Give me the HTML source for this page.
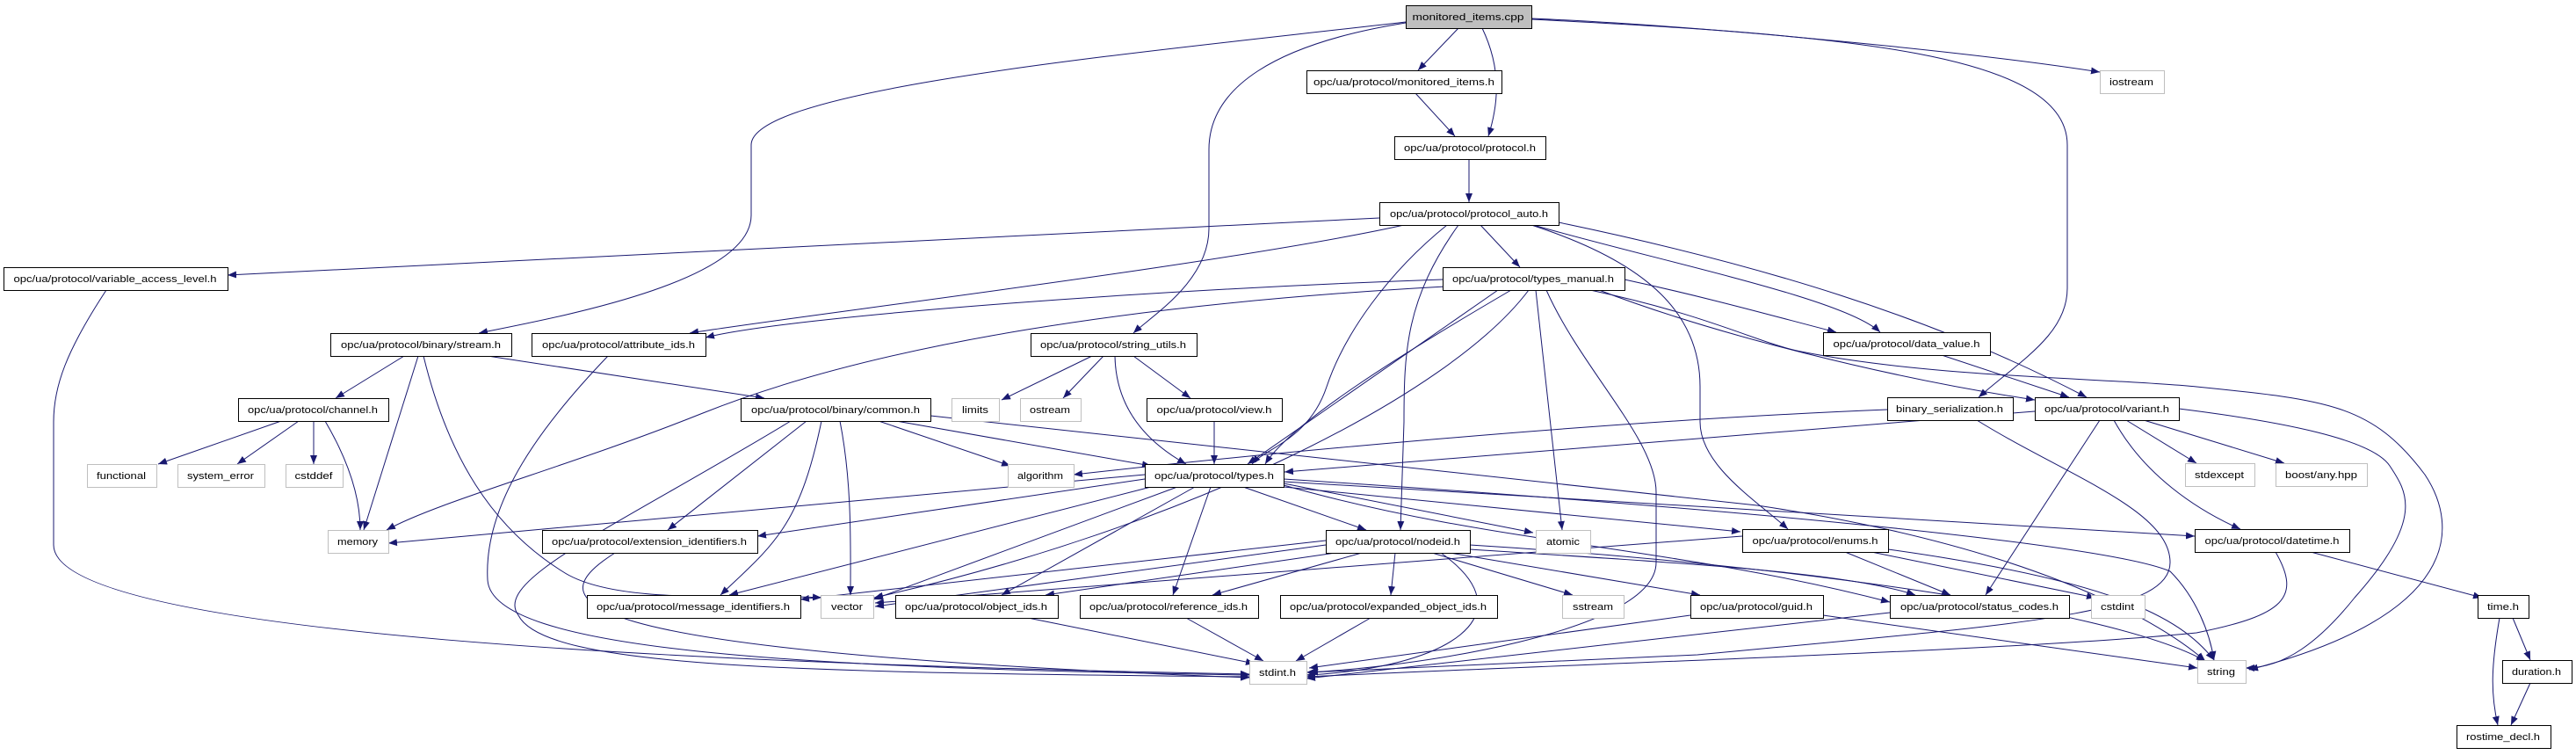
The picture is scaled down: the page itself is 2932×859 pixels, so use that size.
<!DOCTYPE html>
<html><head><meta charset="utf-8"><style>
html,body{margin:0;padding:0;background:#fff;}
svg{display:block;}
text{font-family:"Liberation Sans",sans-serif;font-size:11px;fill:#000;}
.e{fill:none;stroke:#191970;stroke-width:1;marker-end:url(#a);}
.b{fill:#fff;stroke:#000;stroke-width:1;}
.g{fill:#fff;stroke:#bfbfbf;stroke-width:1;}
</style></head><body>
<svg width="2932" height="859" viewBox="0 0 2932 859" xmlns="http://www.w3.org/2000/svg">
<defs><marker id="a" markerWidth="10" markerHeight="8" refX="10" refY="4" orient="auto" markerUnits="userSpaceOnUse"><path d="M0,0 L10,4 L0,8z" fill="#191970"/></marker></defs>
<g>
<path class="e" d="M1660 32 L1614 80"/>
<path class="e" d="M1687 32 C1710 80,1705 120,1694 155"/>
<path class="e" d="M1600 26 C1450 50,1376 100,1376 170 L1376 260 C1376 320,1310 360,1290 379"/>
<path class="e" d="M1600 25 C1300 60,855 100,855 165 L855 245 C855 320,640 360,545 379"/>
<path class="e" d="M1743 22 C2100 40,2353 60,2353 165 L2353 328 C2353 380,2300 410,2252 452"/>
<path class="e" d="M1743 21 C1950 30,2250 60,2390 82"/>
<path class="e" d="M1611 106 L1656 155"/>
<path class="e" d="M1672 181 L1672 230"/>
<path class="e" d="M1570 248 L259 313"/>
<path class="e" d="M1598 256 C1400 300,900 360,785 379"/>
<path class="e" d="M1685 256 L1730 304"/>
<path class="e" d="M1647 256 C1580 310,1530 380,1510 440 C1490 500,1440 510,1425 528"/>
<path class="e" d="M1660 256 C1600 340,1598 400,1598 480 L1594 603"/>
<path class="e" d="M1745 256 C1900 300,2100 340,2140 378"/>
<path class="e" d="M1774 253 C2000 300,2200 360,2375 452"/>
<path class="e" d="M1743 256 C1880 300,1935 360,1935 440 L1935 480 C1935 530,2000 570,2035 602"/>
<path class="e" d="M1642 318 C1300 330,900 360,803 384"/>
<path class="e" d="M1645 326 C1300 345,1000 390,800 470 C650 530,500 570,440 603"/>
<path class="e" d="M1720 330 C1600 400,1470 480,1440 528"/>
<path class="e" d="M1705 330 L1420 528"/>
<path class="e" d="M1740 330 C1650 450,1350 600,995 680"/>
<path class="e" d="M1748 330 L1778 603"/>
<path class="e" d="M1760 330 C1800 420,1885 500,1885 560 L1885 640 C1885 720,1600 760,1487 765"/>
<path class="e" d="M1849 318 C1950 340,2020 360,2090 378"/>
<path class="e" d="M1820 330 C1950 380,2150 430,2316 455"/>
<path class="e" d="M1810 330 C1950 360,2000 390,2050 400 C2200 430,2400 430,2500 440 C2650 455,2700 460,2760 540 C2800 600,2800 700,2560 762"/>
<path class="e" d="M1243 405 L1140 455"/>
<path class="e" d="M1256 405 L1210 453"/>
<path class="e" d="M1269 405 C1270 460,1300 500,1350 528"/>
<path class="e" d="M1290 405 L1355 453"/>
<path class="e" d="M1382 479 L1382 528"/>
<path class="e" d="M460 405 L382 453"/>
<path class="e" d="M476 405 L414 603"/>
<path class="e" d="M482 405 C510 520,560 600,640 650 C700 690,850 675,935 680"/>
<path class="e" d="M555 405 L870 453"/>
<path class="e" d="M320 479 L180 528"/>
<path class="e" d="M340 479 L270 528"/>
<path class="e" d="M357 479 L357 528"/>
<path class="e" d="M370 479 C400 530,410 570,410 603"/>
<path class="e" d="M121 330 C75 400,61 440,61 480 L61 620 C61 700,500 750,1422 767"/>
<path class="e" d="M692 405 C620 480,550 570,555 660 C560 740,900 760,1422 768"/>
<path class="e" d="M1000 479 L1150 530"/>
<path class="e" d="M1020 479 L1310 530"/>
<path class="e" d="M918 479 L760 603"/>
<path class="e" d="M935 479 C910 600,880 620,820 677"/>
<path class="e" d="M956 479 C970 550,968 620,968 677"/>
<path class="e" d="M900 479 C700 600,560 660,590 700 C620 760,900 765,1422 770"/>
<path class="e" d="M1059 473 L2000 575 C2300 620,2450 700,2510 752"/>
<path class="e" d="M2148 466 C1800 480,1400 520,1222 540"/>
<path class="e" d="M2250 478 C2350 540,2470 580,2470 640 C2470 700,2300 710,1932 745 L1490 765"/>
<path class="e" d="M2210 404 L2355 452"/>
<path class="e" d="M2316 468 L1462 537"/>
<path class="e" d="M2420 478 L2500 527"/>
<path class="e" d="M2440 478 L2600 527"/>
<path class="e" d="M2406 478 C2440 540,2500 580,2550 602"/>
<path class="e" d="M2390 478 L2260 677"/>
<path class="e" d="M2480 465 C2600 480,2700 500,2720 530 C2740 560,2760 590,2680 680 C2640 730,2600 760,2556 760"/>
<path class="e" d="M1303 540 L442 618"/>
<path class="e" d="M1303 545 L862 610"/>
<path class="e" d="M1310 554 L830 677"/>
<path class="e" d="M1340 554 L994 682"/>
<path class="e" d="M1360 554 L1140 677"/>
<path class="e" d="M1378 554 L1335 677"/>
<path class="e" d="M1415 554 L1555 603"/>
<path class="e" d="M1461 550 L1745 606"/>
<path class="e" d="M1461 554 L1981 605"/>
<path class="e" d="M1461 548 L2498 610"/>
<path class="e" d="M1461 545 C2000 580,2400 620,2470 650 C2500 680,2515 720,2520 751"/>
<path class="e" d="M1461 552 C1700 620,1900 620,2151 685"/>
<path class="e" d="M1509 615 L911 682"/>
<path class="e" d="M1509 620 L996 690"/>
<path class="e" d="M1520 629 L1190 677"/>
<path class="e" d="M1550 629 L1380 677"/>
<path class="e" d="M1588 629 L1583 677"/>
<path class="e" d="M1630 629 L1790 677"/>
<path class="e" d="M1650 629 L1935 677"/>
<path class="e" d="M1673 625 C1900 640,2100 650,2180 677"/>
<path class="e" d="M1640 629 C1740 700,1650 760,1487 768"/>
<path class="e" d="M1673 620 C2000 640,2400 690,2510 752"/>
<path class="e" d="M1983 610 L996 686"/>
<path class="e" d="M2100 628 L2220 677"/>
<path class="e" d="M2130 628 L2385 680"/>
<path class="e" d="M2149 625 C2400 660,2480 700,2520 751"/>
<path class="e" d="M2630 628 L2825 680"/>
<path class="e" d="M2590 628 C2620 680,2600 700,2500 720 C2300 740,1800 755,1487 770"/>
<path class="e" d="M1924 700 L1490 760"/>
<path class="e" d="M2075 700 L2501 760"/>
<path class="e" d="M2151 697 L1487 772"/>
<path class="e" d="M700 629 C620 680,600 740,1422 771"/>
<path class="e" d="M1170 703 L1428 755"/>
<path class="e" d="M1350 703 L1438 752"/>
<path class="e" d="M1560 703 L1475 752"/>
<path class="e" d="M2860 703 L2880 751"/>
<path class="e" d="M2845 703 C2835 760,2835 790,2843 825"/>
<path class="e" d="M2880 777 L2858 825"/>
</g>
<g>
<rect x="1600.5" y="6.5" width="143" height="26" fill="#bfbfbf" stroke="#000"/><text x="1671" y="23" text-anchor="middle" textLength="127" lengthAdjust="spacingAndGlyphs">monitored_items.cpp</text>
<rect class="b" x="1487.5" y="80.5" width="222" height="26"/><text x="1598" y="97" text-anchor="middle" textLength="206" lengthAdjust="spacingAndGlyphs">opc/ua/protocol/monitored_items.h</text>
<rect class="b" x="1587.5" y="155.5" width="172" height="26"/><text x="1673" y="172" text-anchor="middle" textLength="150" lengthAdjust="spacingAndGlyphs">opc/ua/protocol/protocol.h</text>
<rect class="b" x="1570.5" y="230.5" width="204" height="26"/><text x="1672" y="247" text-anchor="middle" textLength="180" lengthAdjust="spacingAndGlyphs">opc/ua/protocol/protocol_auto.h</text>
<rect class="b" x="1642.5" y="304.5" width="207" height="26"/><text x="1745" y="321" text-anchor="middle" textLength="184" lengthAdjust="spacingAndGlyphs">opc/ua/protocol/types_manual.h</text>
<rect class="b" x="1173.5" y="379.5" width="189" height="26"/><text x="1267" y="396" text-anchor="middle" textLength="166" lengthAdjust="spacingAndGlyphs">opc/ua/protocol/string_utils.h</text>
<rect class="b" x="4.5" y="304.5" width="255" height="26"/><text x="131" y="321" text-anchor="middle" textLength="231" lengthAdjust="spacingAndGlyphs">opc/ua/protocol/variable_access_level.h</text>
<rect class="b" x="376.5" y="379.5" width="206" height="26"/><text x="479" y="396" text-anchor="middle" textLength="182" lengthAdjust="spacingAndGlyphs">opc/ua/protocol/binary/stream.h</text>
<rect class="b" x="605.5" y="379.5" width="198" height="26"/><text x="704" y="396" text-anchor="middle" textLength="174" lengthAdjust="spacingAndGlyphs">opc/ua/protocol/attribute_ids.h</text>
<rect class="b" x="271.5" y="453.5" width="171" height="26"/><text x="356" y="470" text-anchor="middle" textLength="148" lengthAdjust="spacingAndGlyphs">opc/ua/protocol/channel.h</text>
<rect class="g" x="99.5" y="528.5" width="79" height="26"/><text x="138" y="545" text-anchor="middle" textLength="56" lengthAdjust="spacingAndGlyphs">functional</text>
<rect class="g" x="202.5" y="528.5" width="99" height="26"/><text x="251" y="545" text-anchor="middle" textLength="76" lengthAdjust="spacingAndGlyphs">system_error</text>
<rect class="g" x="325.5" y="528.5" width="65" height="26"/><text x="357" y="545" text-anchor="middle" textLength="43" lengthAdjust="spacingAndGlyphs">cstddef</text>
<rect class="g" x="373.5" y="603.5" width="69" height="26"/><text x="407" y="620" text-anchor="middle" textLength="46" lengthAdjust="spacingAndGlyphs">memory</text>
<rect class="b" x="617.5" y="603.5" width="245" height="26"/><text x="739" y="620" text-anchor="middle" textLength="222" lengthAdjust="spacingAndGlyphs">opc/ua/protocol/extension_identifiers.h</text>
<rect class="b" x="668.5" y="677.5" width="243" height="26"/><text x="789" y="694" text-anchor="middle" textLength="220" lengthAdjust="spacingAndGlyphs">opc/ua/protocol/message_identifiers.h</text>
<rect class="g" x="934.5" y="677.5" width="60" height="26"/><text x="964" y="694" text-anchor="middle" textLength="36" lengthAdjust="spacingAndGlyphs">vector</text>
<rect class="b" x="843.5" y="453.5" width="216" height="26"/><text x="951" y="470" text-anchor="middle" textLength="192" lengthAdjust="spacingAndGlyphs">opc/ua/protocol/binary/common.h</text>
<rect class="g" x="1083.5" y="453.5" width="54" height="26"/><text x="1110" y="470" text-anchor="middle" textLength="30" lengthAdjust="spacingAndGlyphs">limits</text>
<rect class="g" x="1161.5" y="453.5" width="69" height="26"/><text x="1195" y="470" text-anchor="middle" textLength="46" lengthAdjust="spacingAndGlyphs">ostream</text>
<rect class="b" x="1305.5" y="453.5" width="154" height="26"/><text x="1382" y="470" text-anchor="middle" textLength="131" lengthAdjust="spacingAndGlyphs">opc/ua/protocol/view.h</text>
<rect class="g" x="1147.5" y="528.5" width="75" height="26"/><text x="1184" y="545" text-anchor="middle" textLength="52" lengthAdjust="spacingAndGlyphs">algorithm</text>
<rect class="b" x="1303.5" y="528.5" width="158" height="26"/><text x="1382" y="545" text-anchor="middle" textLength="136" lengthAdjust="spacingAndGlyphs">opc/ua/protocol/types.h</text>
<rect class="b" x="1509.5" y="603.5" width="164" height="26"/><text x="1591" y="620" text-anchor="middle" textLength="142" lengthAdjust="spacingAndGlyphs">opc/ua/protocol/nodeid.h</text>
<rect class="g" x="1748.5" y="603.5" width="62" height="26"/><text x="1779" y="620" text-anchor="middle" textLength="38" lengthAdjust="spacingAndGlyphs">atomic</text>
<rect class="b" x="1019.5" y="677.5" width="185" height="26"/><text x="1111" y="694" text-anchor="middle" textLength="162" lengthAdjust="spacingAndGlyphs">opc/ua/protocol/object_ids.h</text>
<rect class="b" x="1229.5" y="677.5" width="203" height="26"/><text x="1330" y="694" text-anchor="middle" textLength="180" lengthAdjust="spacingAndGlyphs">opc/ua/protocol/reference_ids.h</text>
<rect class="b" x="1457.5" y="677.5" width="247" height="26"/><text x="1580" y="694" text-anchor="middle" textLength="224" lengthAdjust="spacingAndGlyphs">opc/ua/protocol/expanded_object_ids.h</text>
<rect class="g" x="1778.5" y="677.5" width="70" height="26"/><text x="1813" y="694" text-anchor="middle" textLength="46" lengthAdjust="spacingAndGlyphs">sstream</text>
<rect class="g" x="1422.5" y="752.5" width="65" height="26"/><text x="1454" y="769" text-anchor="middle" textLength="42" lengthAdjust="spacingAndGlyphs">stdint.h</text>
<rect class="g" x="2390.5" y="80.5" width="73" height="26"/><text x="2426" y="97" text-anchor="middle" textLength="50" lengthAdjust="spacingAndGlyphs">iostream</text>
<rect class="b" x="2075.5" y="378.5" width="190" height="26"/><text x="2170" y="395" text-anchor="middle" textLength="167" lengthAdjust="spacingAndGlyphs">opc/ua/protocol/data_value.h</text>
<rect class="b" x="2148.5" y="452.5" width="143" height="26"/><text x="2219" y="469" text-anchor="middle" textLength="122" lengthAdjust="spacingAndGlyphs">binary_serialization.h</text>
<rect class="b" x="2316.5" y="452.5" width="164" height="26"/><text x="2398" y="469" text-anchor="middle" textLength="142" lengthAdjust="spacingAndGlyphs">opc/ua/protocol/variant.h</text>
<rect class="g" x="2487.5" y="527.5" width="79" height="26"/><text x="2526" y="544" text-anchor="middle" textLength="56" lengthAdjust="spacingAndGlyphs">stdexcept</text>
<rect class="g" x="2590.5" y="527.5" width="104" height="26"/><text x="2642" y="544" text-anchor="middle" textLength="82" lengthAdjust="spacingAndGlyphs">boost/any.hpp</text>
<rect class="b" x="1983.5" y="602.5" width="166" height="26"/><text x="2066" y="619" text-anchor="middle" textLength="143" lengthAdjust="spacingAndGlyphs">opc/ua/protocol/enums.h</text>
<rect class="b" x="2498.5" y="602.5" width="176" height="26"/><text x="2586" y="619" text-anchor="middle" textLength="153" lengthAdjust="spacingAndGlyphs">opc/ua/protocol/datetime.h</text>
<rect class="b" x="1924.5" y="677.5" width="151" height="26"/><text x="1999" y="694" text-anchor="middle" textLength="128" lengthAdjust="spacingAndGlyphs">opc/ua/protocol/guid.h</text>
<rect class="b" x="2151.5" y="677.5" width="204" height="26"/><text x="2253" y="694" text-anchor="middle" textLength="180" lengthAdjust="spacingAndGlyphs">opc/ua/protocol/status_codes.h</text>
<rect class="g" x="2380.5" y="677.5" width="61" height="26"/><text x="2410" y="694" text-anchor="middle" textLength="38" lengthAdjust="spacingAndGlyphs">cstdint</text>
<rect class="b" x="2820.5" y="677.5" width="58" height="26"/><text x="2849" y="694" text-anchor="middle" textLength="36" lengthAdjust="spacingAndGlyphs">time.h</text>
<rect class="g" x="2501.5" y="751.5" width="55" height="26"/><text x="2528" y="768" text-anchor="middle" textLength="32" lengthAdjust="spacingAndGlyphs">string</text>
<rect class="b" x="2848.5" y="751.5" width="79" height="26"/><text x="2887" y="768" text-anchor="middle" textLength="56" lengthAdjust="spacingAndGlyphs">duration.h</text>
<rect class="b" x="2796.5" y="825.5" width="107" height="26"/><text x="2849" y="842" text-anchor="middle" textLength="84" lengthAdjust="spacingAndGlyphs">rostime_decl.h</text>
</g>
</svg>
</body></html>
